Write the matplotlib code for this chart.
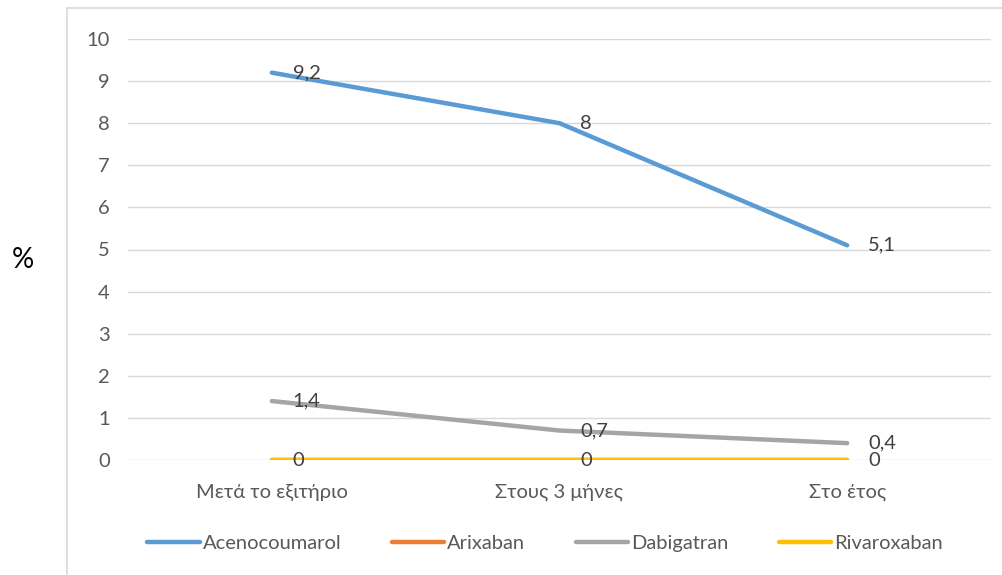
import matplotlib.pyplot as plt
from matplotlib.patches import Rectangle

# values per drug (%), at discharge / 3 months / 1 year
categories = ["Μετά το εξιτήριο", "Στους 3 μήνες", "Στο έτος"]
acenocoumarol = [9.2, 8, 5.1]
arixaban = [0, 0, 0]
dabigatran = [1.4, 0.7, 0.4]
rivaroxaban = [0, 0, 0]

series_names = ["Acenocoumarol", "Arixaban", "Dabigatran", "Rivaroxaban"]
series_values = [acenocoumarol, arixaban, dabigatran, rivaroxaban]
colors = ["#5b9bd5", "#ed7d31", "#a5a5a5", "#ffc000"]
labelled = [True, False, True, True]

plt.rcParams["font.family"] = ["Lato", "DejaVu Sans"]

fig = plt.figure(figsize=(10.03, 5.75), dpi=100)
ax = fig.add_axes([128 / 1003, 1 - 460 / 575, 863 / 1003, 421 / 575])

# light chart frame
fig.patches.append(Rectangle((67 / 1003, -0.1), 1.0, 1.1 - 8 / 575,
                             transform=fig.transFigure, fill=False,
                             edgecolor="#d9d9d9", linewidth=1.2, zorder=0))

x = list(range(len(categories)))
for name, vals, col, lab in zip(series_names, series_values, colors, labelled):
    ax.plot(x, vals, color=col, linewidth=3.2, solid_capstyle="round",
            label=name, zorder=3)
    if lab:
        for xi, v in zip(x, vals):
            txt = f"{v:g}".replace(".", ",")
            ax.annotate(txt, (xi, v), xytext=(15, 0), textcoords="offset points",
                        ha="left", va="center", fontsize=14.5, color="#404040",
                        zorder=4)

ax.set_xlim(-0.5, 2.5)
ax.set_ylim(0, 10)
ax.set_yticks(range(0, 11))
ax.set_xticks(x)
ax.set_xticklabels(categories)
ax.grid(axis="y", color="#d9d9d9", linewidth=1)
ax.set_axisbelow(True)
for s in ax.spines.values():
    s.set_visible(False)
ax.tick_params(axis="both", length=0, labelsize=14.5, labelcolor="#595959")
ax.tick_params(axis="y", pad=13)
ax.tick_params(axis="x", pad=17)

fig.text(12 / 1003, 1 - 260 / 575, "%", fontsize=20, color="#000000",
         ha="left", va="center")

ax.legend(loc="center", bbox_to_anchor=(545 / 1003, 1 - 543 / 575),
          bbox_transform=fig.transFigure, ncol=4, frameon=False,
          fontsize=14.5, labelcolor="#595959", handlelength=2.6,
          handletextpad=0.15, columnspacing=2.5)

fig.savefig("out.png", dpi=100)
